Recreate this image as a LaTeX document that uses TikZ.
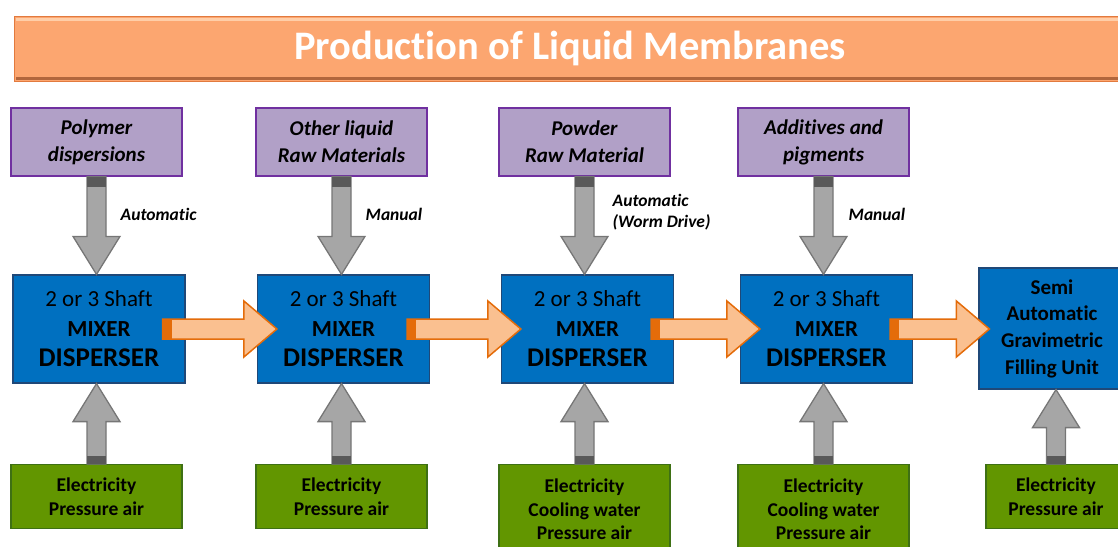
\documentclass[tikz,border=0pt]{standalone}
\usepackage{fontspec}
\setmainfont{Carlito}[Ligatures={NoCommon,NoDiscretionary,NoRare}]
\usetikzlibrary{positioning, calc}

\definecolor{titlefill}{RGB}{252,166,112}
\definecolor{titleedge}{RGB}{226,122,62}
\definecolor{titlelight}{RGB}{255,206,168}
\definecolor{titledark}{RGB}{178,102,60}
\definecolor{purplefill}{RGB}{177,160,199}
\definecolor{purpleedge}{RGB}{112,48,160}
\definecolor{mixblue}{RGB}{0,112,192}
\definecolor{blueedge}{RGB}{31,72,120}
\definecolor{supplygreen}{RGB}{98,150,0}
\definecolor{greenedge}{RGB}{62,112,20}
\definecolor{feedgray}{RGB}{166,166,166}
\definecolor{feededge}{RGB}{118,118,118}
\definecolor{capgray}{RGB}{89,89,89}
\definecolor{flowfill}{RGB}{250,192,144}
\definecolor{flowedge}{RGB}{228,108,10}

\begin{document}
\begin{tikzpicture}[x=1pt, y=-1pt,
    titlebar/.style={draw=titleedge, fill=titlefill, line width=1pt, minimum width=1112pt, minimum height=65pt, text=white, font=\fontsize{40.5}{44}\selectfont\bfseries},
    source/.style={draw=purpleedge, fill=purplefill, line width=1.2pt, minimum width=171pt, minimum height=68pt, align=center, font=\fontsize{21}{27}\selectfont\bfseries\itshape},
    mixer/.style={draw=blueedge, fill=mixblue, line width=1.2pt, minimum width=172pt, minimum height=108pt, align=center, font=\fontsize{23}{30}\selectfont},
    supply/.style={draw=greenedge, fill=supplygreen, line width=1.2pt, minimum width=171pt, minimum height=64pt, anchor=north, align=center, font=\fontsize{19.5}{23.5}\selectfont\bfseries},
    feed/.style={draw=feededge, fill=feedgray, line width=1.3pt},
    flow/.style={draw=flowedge, fill=flowfill, line width=1.5pt},
    note/.style={anchor=west, align=left, inner sep=0pt, font=\fontsize{17.5}{21}\selectfont\bfseries\itshape}
]
    \useasboundingbox (0,0) rectangle (1118,546);
    \clip (0,0) rectangle (1118,546);

    % Title
    \node[titlebar] (title) at (570,48.5) {Production of Liquid Membranes};
    \fill[titlelight] ($(title.north west)+(2,2)$) rectangle ($(title.north east)+(-2,5)$);
    \fill[titledark] ($(title.south west)+(2,-2)$) rectangle ($(title.south east)+(-2,-5)$);

    % Raw materials
    \node[source] (p1) at (96.5,142) {Polymer\\dispersions};
    \node[source] (p2) at (341.5,142) {Other liquid\\Raw Materials};
    \node[source] (p3) at (584.5,142) {Powder\\Raw Material};
    \node[source] (p4) at (823.5,142) {Additives and\\pigments};

    % Mixers and filling unit
    \foreach \i/\x in {1/99, 2/343.5, 3/587.5, 4/826.5}
        \node[mixer] (m\i) at (\x,329) {2 or 3 Shaft\\\textbf{MIXER}\\{\fontsize{27}{30}\selectfont\bfseries DISPERSER}};
    \node[mixer, minimum width=146pt, minimum height=121pt, font=\fontsize{21}{26.7}\selectfont\bfseries] (f) at (1052,328.5) {Semi\\Automatic\\Gravimetric\\Filling Unit};

    % Utilities
    \node[supply] (e1) at (96.5,464) {Electricity\\Pressure air};
    \node[supply] (e2) at (341.5,464) {Electricity\\Pressure air};
    \node[supply, minimum height=90pt] (e3) at (584.5,464) {Electricity\\Cooling water\\Pressure air};
    \node[supply, minimum height=90pt] (e4) at (823.5,464) {Electricity\\Cooling water\\Pressure air};
    \node[supply, minimum width=140pt] (e5) at (1056,464) {Electricity\\Pressure air};

    % Feed arrows (down)
    \foreach \i in {1,...,4} {
        \coordinate (t\i) at (p\i.south |- m\i.north);
        \filldraw[feed] ($(p\i.south)+(-9.5,0)$) -- ($(t\i)+(-9.5,-38)$) -- ($(t\i)+(-23.5,-38)$) -- (t\i)
            -- ($(t\i)+(23.5,-38)$) -- ($(t\i)+(9.5,-38)$) -- ($(p\i.south)+(9.5,0)$) -- cycle;
        \fill[capgray] ($(p\i.south)+(-9.5,0)$) rectangle ($(p\i.south)+(9.5,10)$);
    }

    % Utility arrows (up)
    \foreach \a/\b in {e1/m1, e2/m2, e3/m3, e4/m4, e5/f} {
        \coordinate (u) at (\a.north |- \b.south);
        \filldraw[feed] ($(\a.north)+(-9.5,0)$) -- ($(u)+(-9.5,38)$) -- ($(u)+(-23.5,38)$) -- (u)
            -- ($(u)+(23.5,38)$) -- ($(u)+(9.5,38)$) -- ($(\a.north)+(9.5,0)$) -- cycle;
        \fill[capgray] ($(\a.north)+(-9.5,0)$) rectangle ($(\a.north)+(9.5,-8)$);
    }

    % Flow arrows
    \foreach \a/\b/\d in {m1/m2/20, m2/m3/20, m3/m4/20, m4/f/11} {
        \coordinate (s) at ($(\a.east)+(-23,0)$);
        \coordinate (h) at ($(\b.west |- s)+(\d,0)$);
        \filldraw[flow] ($(s)+(0,-10)$) -- ($(h)+(-33,-10)$) -- ($(h)+(-33,-28)$) -- (h)
            -- ($(h)+(-33,28)$) -- ($(h)+(-33,10)$) -- ($(s)+(0,10)$) -- cycle;
        \fill[flowedge] ($(s)+(0,-10)$) rectangle ($(s)+(9,10)$);
    }

    % Feed labels
    \node[note] (l1) at ($(p1.south)+(24,38)$) {Automatic};
    \node[note] (l2) at ($(p2.south)+(24,38)$) {Manual};
    \node[note] (l3) at ($(p3.south)+(28,35.5)$) {Automatic\\(Worm Drive)};
    \node[note] (l4) at ($(p4.south)+(25,38)$) {Manual};
\end{tikzpicture}
\end{document}
